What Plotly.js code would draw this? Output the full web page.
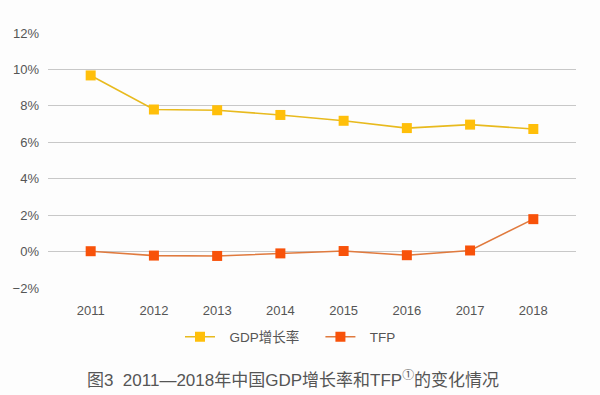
<!DOCTYPE html>
<html>
<head>
<meta charset="utf-8">
<script src="https://cdn.plot.ly/plotly-3.0.1.min.js"></script>
<style>html,body{margin:0;padding:0;background:#fdfdfd;}#chart{width:600px;height:395px;}</style>
</head>
<body>
<div id="chart"></div>
<script>
const years = ['2011','2012','2013','2014','2015','2016','2017','2018'];
const gdpGrowth = [9.67, 7.8, 7.76, 7.5, 7.18, 6.78, 6.97, 6.73];
const tfp = [0.02, -0.22, -0.24, -0.1, 0.03, -0.2, 0.06, 1.78];
const yTicks = [-2, 0, 2, 4, 6, 8, 10, 12];
const yTickLabels = ['−2%', '0%', '2%', '4%', '6%', '8%', '10%', '12%'];
const seriesNames = ['GDP增长率', 'TFP'];
const chartTitle = '图3  2011—2018年中国GDP增长率和TFP<sup>①</sup>的变化情况';

const fontFam = '"Liberation Sans", Arial, "Noto Sans CJK SC", sans-serif';
const gap = '\u2002\u2009';
const trail = '\u2003\u2009';

const traces = [
  {
    x: years, y: gdpGrowth, name: gap + seriesNames[0] + trail, type: 'scatter', mode: 'lines+markers',
    line: {color: '#E8BA1E', width: 1.6},
    marker: {symbol: 'square', size: 10, color: '#FFBF0A'}
  },
  {
    x: years, y: tfp, name: gap + seriesNames[1], type: 'scatter', mode: 'lines+markers',
    line: {color: '#E07A3E', width: 1.6},
    marker: {symbol: 'square', size: 10, color: '#F8520A'}
  }
];

const layout = {
  width: 600, height: 395,
  margin: {l: 48, r: 24, t: 33, b: 107},
  paper_bgcolor: '#fdfdfd', plot_bgcolor: '#fdfdfd',
  font: {family: fontFam, color: '#555555', size: 13},
  showlegend: true,
  legend: {
    orientation: 'h', xref: 'container', yref: 'container',
    x: 0.3, y: 1 - 337/395, xanchor: 'left', yanchor: 'middle',
    font: {size: 13.5, color: '#555555'}, itemwidth: 30, bgcolor: 'rgba(0,0,0,0)'
  },
  title: {
    text: chartTitle, xref: 'container', yref: 'container',
    x: 293/600, y: 1 - 380/395, xanchor: 'center', yanchor: 'middle',
    font: {size: 17, color: '#555555', family: fontFam}
  },
  xaxis: {
    type: 'category', range: [-0.675, 7.675], showgrid: false, zeroline: false,
    showline: false, ticks: '', tickfont: {size: 13, color: '#555555'}, ticklabelstandoff: 13
  },
  yaxis: {
    range: [-2, 12], tickvals: yTicks, ticktext: yTickLabels, showgrid: true,
    gridcolor: '#c8c8c8', gridwidth: 1, zeroline: false, showline: false, ticks: '',
    tickfont: {size: 13, color: '#555555'}, ticklabelstandoff: 8
  }
};

Plotly.newPlot('chart', traces, layout, {displayModeBar: false, staticPlot: true});
</script>
</body>
</html>
